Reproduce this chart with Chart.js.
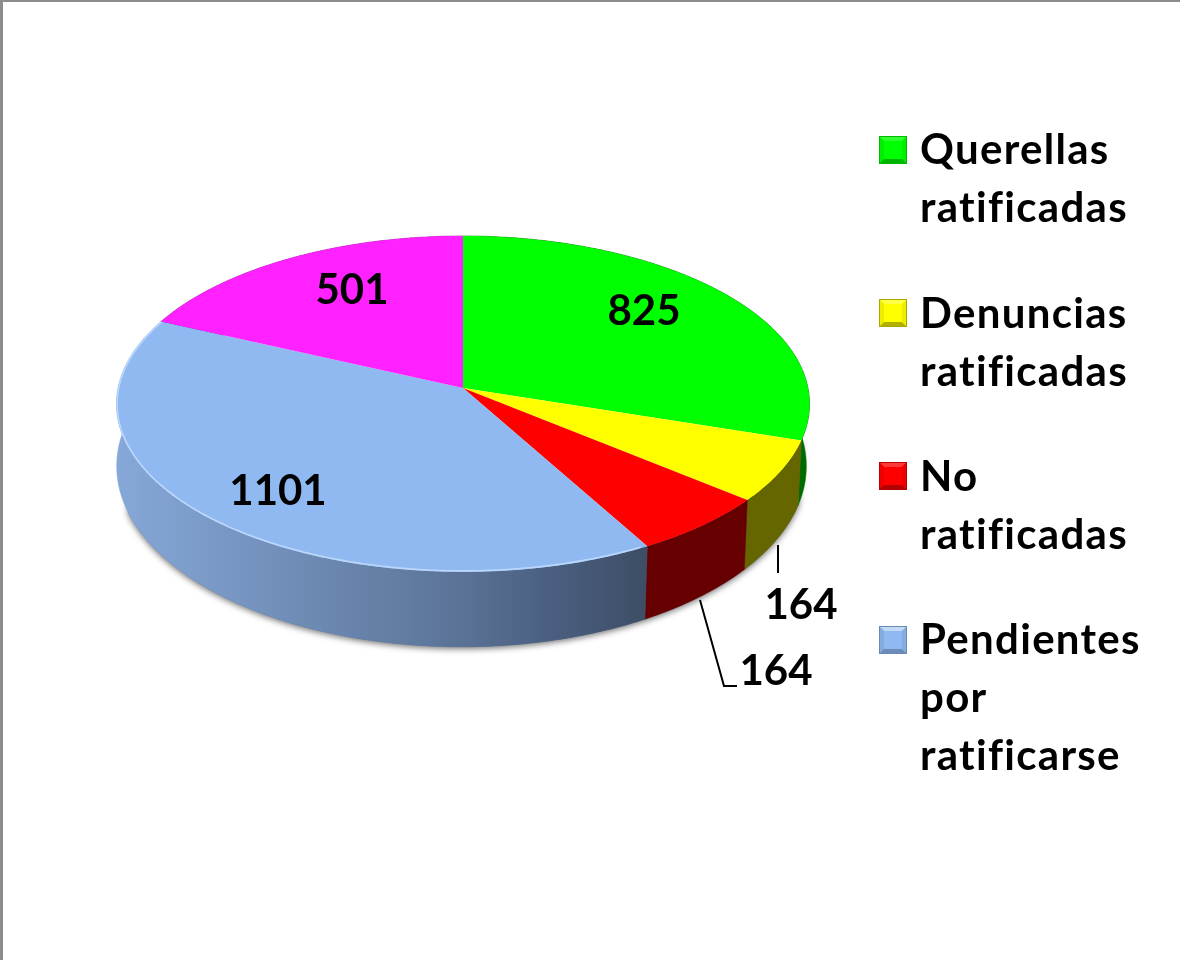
<!DOCTYPE html>
<html>
<head>
<meta charset="utf-8">
<script src="https://cdn.jsdelivr.net/npm/chart.js@4"></script>
<style>
html,body{margin:0;padding:0;background:#fff;overflow:hidden}
canvas{display:block}
</style>
</head>
<body>
<canvas id="c" width="1180" height="960"></canvas>
<script>
const categories = [
  ['Querellas', 'ratificadas'],
  ['Denuncias', 'ratificadas'],
  ['No', 'ratificadas'],
  ['Pendientes', 'por', 'ratificarse'],
  ['']
];
const values = [825, 164, 164, 1101, 501];
const topColors = ['#00ff00', '#ffff00', '#ff0000', '#90b9f1', '#ff21ff'];
const wallStops = [
  [[0, '#006c00'], [1, '#006c00']],
  [[0, '#666600'], [1, '#666600']],
  [[0, '#660000'], [1, '#660000']],
  [[0, '#86a8d8'], [0.32, '#6a86ae'], [0.5, '#5a7296'], [0.65, '#485c7c'], [0.76, '#3d4e66'], [1, '#3d4e66']],
  [[0, '#991499'], [1, '#991499']]
];
const swatchShades = [
  {top:'#30ff30', side:'#00ee00', bottom:'#00b400', edge:'#00b800'},
  {top:'#ffff44', side:'#eeee00', bottom:'#b0b000', edge:'#a8a800'},
  {top:'#ff3838', side:'#ee0000', bottom:'#b00000', edge:'#b80000'},
  {top:'#c2daf8', side:'#86acdf', bottom:'#6c8cb8', edge:'#6a88b4'}
];
const legendSwatchTops = [136, 299, 462, 626];
const legendFirstBaselines = [164, 328, 491, 654];
const dataLabelPlaces = [[644, 325], [801, 619], [776, 685], [278, 505], [352, 304]];

const FONT = '"Lato", "Open Sans", sans-serif';
const persp = 0.095, topK = 0.4826, botKx = 0.995, botKy = 0.519, botDrop = 61, botShift = -1.5;

function project(el, a, bottom) {
  const u = Math.cos(a), v = Math.sin(a), d = 1 - persp * v, r = el.outerRadius;
  if (bottom) return [el.x + botShift + r * botKx * u / d, el.y + botDrop + r * botKy * v / d];
  return [el.x + r * u / d, el.y + r * topK * v / d];
}
function angleSteps(a0, a1) {
  const n = Math.max(2, Math.ceil((a1 - a0) * 120)), out = [];
  for (let i = 0; i <= n; i++) out.push(a0 + (a1 - a0) * i / n);
  return out;
}
function wallPath(ctx, el, a0, a1) {
  ctx.beginPath();
  angleSteps(a0, a1).forEach((a, i) => { const p = project(el, a, false); i ? ctx.lineTo(p[0], p[1]) : ctx.moveTo(p[0], p[1]); });
  angleSteps(a0, a1).reverse().forEach(a => { const p = project(el, a, true); ctx.lineTo(p[0], p[1]); });
  ctx.closePath();
}

const pie3d = {
  id: 'pie3d',
  beforeDraw(chart) {
    const ctx = chart.ctx;
    ctx.save();
    ctx.fillStyle = '#ffffff';
    ctx.fillRect(0, 0, chart.width, chart.height);
    ctx.fillStyle = '#8c8c8c';
    ctx.fillRect(0, 0, chart.width, 2);
    ctx.fillRect(0, 0, 3, chart.height);
    ctx.restore();
  },
  beforeDatasetsDraw(chart) {
    const ctx = chart.ctx, arcs = chart.getDatasetMeta(0).data;
    ctx.save();
    const first = arcs[0];
    // soft shadow under the full base
    ctx.save();
    ctx.shadowColor = 'rgba(0,0,0,0.55)';
    ctx.shadowBlur = 6;
    ctx.shadowOffsetX = 0;
    ctx.shadowOffsetY = 2;
    ctx.fillStyle = '#5a7296';
    wallPath(ctx, first, 0.3, Math.PI - 0.35);
    ctx.fill();
    ctx.restore();
    // side walls
    arcs.forEach((el, i) => {
      const grad = ctx.createLinearGradient(el.x - el.outerRadius, 0, el.x + el.outerRadius, 0);
      wallStops[i].forEach(s => grad.addColorStop(s[0], s[1]));
      ctx.fillStyle = grad;
      wallPath(ctx, el, el.startAngle, el.endAngle);
      ctx.fill();
      ctx.strokeStyle = grad;
      ctx.lineWidth = 0.5;
      ctx.stroke();
    });
    // top faces
    arcs.forEach((el, i) => {
      ctx.beginPath();
      ctx.moveTo(el.x, el.y);
      angleSteps(el.startAngle, el.endAngle).forEach(a => { const p = project(el, a, false); ctx.lineTo(p[0], p[1]); });
      ctx.closePath();
      ctx.fillStyle = topColors[i];
      ctx.fill();
    });
    // bevel highlight along the blue rim
    const blue = arcs[3];
    ctx.beginPath();
    angleSteps(blue.startAngle + 0.02, blue.endAngle).forEach((a, i) => {
      const p = project(blue, a, false);
      const x = p[0] + (blue.x - p[0]) * 0.002, y = p[1] + (blue.y - p[1]) * 0.006;
      i ? ctx.lineTo(x, y) : ctx.moveTo(x, y);
    });
    ctx.strokeStyle = 'rgba(205,228,255,0.7)';
    ctx.lineWidth = 1.6;
    ctx.stroke();
    ctx.restore();
    return false;
  },
  afterDraw(chart) {
    const ctx = chart.ctx, data = chart.data.datasets[0].data;
    ctx.save();
    // leader lines
    ctx.strokeStyle = '#000';
    ctx.lineWidth = 2;
    ctx.beginPath();
    ctx.moveTo(778, 545); ctx.lineTo(778, 573);
    ctx.moveTo(700, 600); ctx.lineTo(724, 686); ctx.lineTo(737, 686);
    ctx.stroke();
    // data labels
    ctx.fillStyle = '#000';
    ctx.textAlign = 'center';
    ctx.textBaseline = 'alphabetic';
    ctx.font = 'bold 42px ' + FONT;
    data.forEach((v, i) => ctx.fillText(String(v), dataLabelPlaces[i][0], dataLabelPlaces[i][1]));
    // legend
    ctx.textAlign = 'left';
    legendSwatchTops.forEach((t, i) => {
      const x = 879, s = 28, b = 5, sh = swatchShades[i];
      ctx.fillStyle = topColors[i];
      ctx.fillRect(x, t, s, s);
      const trap = (pts, c) => { ctx.fillStyle = c; ctx.beginPath(); pts.forEach((p, k) => k ? ctx.lineTo(p[0], p[1]) : ctx.moveTo(p[0], p[1])); ctx.closePath(); ctx.fill(); };
      trap([[x, t], [x + s, t], [x + s - b, t + b], [x + b, t + b]], sh.top);
      trap([[x, t], [x + b, t + b], [x + b, t + s - b], [x, t + s]], sh.side);
      trap([[x + s, t], [x + s - b, t + b], [x + s - b, t + s - b], [x + s, t + s]], sh.side);
      trap([[x, t + s], [x + b, t + s - b], [x + s - b, t + s - b], [x + s, t + s]], sh.bottom);
      ctx.strokeStyle = sh.edge;
      ctx.lineWidth = 1;
      ctx.strokeRect(x + 0.5, t + 0.5, s - 1, s - 1);
      ctx.fillStyle = '#000';
      ctx.font = 'bold 42px ' + FONT;
      ctx.letterSpacing = '1.3px';
      categories[i].forEach((line, k) => ctx.fillText(line, 920, legendFirstBaselines[i] + k * 58));
      ctx.letterSpacing = '0px';
    });
    ctx.restore();
  }
};

new Chart(document.getElementById('c'), {
  type: 'pie',
  data: {
    labels: categories,
    datasets: [{ data: values, backgroundColor: topColors, borderWidth: 0, hoverOffset: 0 }]
  },
  options: {
    responsive: false,
    animation: false,
    layout: { padding: { left: 118, right: 372, top: 43, bottom: 227 } },
    plugins: { legend: { display: false }, tooltip: { enabled: false }, title: { display: false } }
  },
  plugins: [pie3d]
});
</script>
</body>
</html>
